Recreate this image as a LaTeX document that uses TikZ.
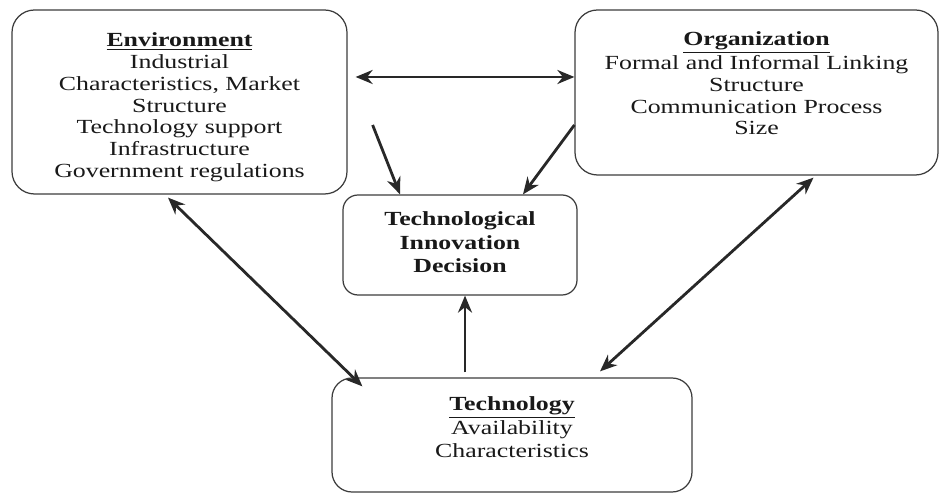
\documentclass[tikz,border=0pt]{standalone}
\usepackage{fontspec}
\setmainfont{Liberation Serif}[FakeStretch=1.29]
\usepackage{tikz}
\usetikzlibrary{arrows.meta,positioning,calc}
\definecolor{toeline}{RGB}{60,60,60}
\definecolor{toearrow}{RGB}{40,40,40}
\definecolor{toetext}{RGB}{25,25,25}
\tikzstyle{arrow} = [line width=1.6pt,-{Stealth[length=3.4mm,width=2.8mm]},color=toearrow]
\tikzstyle{darrow} = [arrow,{Stealth[length=3.4mm,width=2.8mm]}-{Stealth[length=3.4mm,width=2.8mm]}]
\tikzstyle{factor} = [rectangle, rounded corners=0.45cm, draw=toeline, line width=0.7pt]
\tikzstyle{factortext} = [inner sep=0pt, align=center, text=toetext, font=\fontsize{11.4}{12.4}\selectfont]

\begin{document}
\begin{tikzpicture}
\useasboundingbox (0,0) rectangle (18.8,9.88);
% Environment
\node[factor, minimum width=6.7cm, minimum height=3.68cm] (env) at (3.59,7.84) {};
\node[factortext, below=0.46cm of env.north] (envtext) {
\underline{\textbf{Environment}}\\
Industrial\\
Characteristics, Market\\
Structure\\
Technology support\\
Infrastructure\\
Government regulations};

% Organization
\node[factor, minimum width=7.26cm, minimum height=3.3cm] (org) at (15.13,8.03) {};
\node[factortext, below=0.44cm of org.north] (orgtext) {
\underline{\textbf{Organization}}\\
Formal and Informal Linking\\
Structure\\
Communication Process\\
Size};

% Decision
\node[factor, rounded corners=0.3cm, minimum width=4.68cm, minimum height=2cm] (dec) at (9.2,4.98) {};
\node[factortext, font=\fontsize{11.4}{13.4}\selectfont\bfseries, below=0.34cm of dec.north] (dectext) {
Technological\\
Innovation\\
Decision};

% Technology
\node[factor, rounded corners=0.4cm, minimum width=7.2cm, minimum height=2.28cm] (tech) at (10.24,1.18) {};
\node[factortext, font=\fontsize{11.4}{13.4}\selectfont, below=0.38cm of tech.north] (techtext) {
\underline{\textbf{Technology}}\\
Availability\\
Characteristics};

% Connections
\draw[darrow] ([xshift=0.16cm,yshift=0.5cm]env.east) -- ([yshift=0.5cm]env.east -| org.west);
\draw[arrow] ([xshift=0.5cm,yshift=-0.46cm]env.east) -- ([xshift=-1.2cm]dec.north);
\draw[arrow] ([yshift=-0.65cm]org.west) -- ([xshift=1.26cm]dec.north);
\draw[darrow] ([xshift=-0.23cm,yshift=-0.06cm]env.south) -- ([xshift=0.62cm,yshift=-0.18cm]tech.north west);
\draw[darrow] ([xshift=1.14cm,yshift=-0.04cm]org.south) -- ([xshift=1.76cm,yshift=0.12cm]tech.north);
\draw[arrow] ($(dec.south |- tech.north)+(0.1,0.1)$) -- ([xshift=0.1cm]dec.south);
\end{tikzpicture}
\end{document}
